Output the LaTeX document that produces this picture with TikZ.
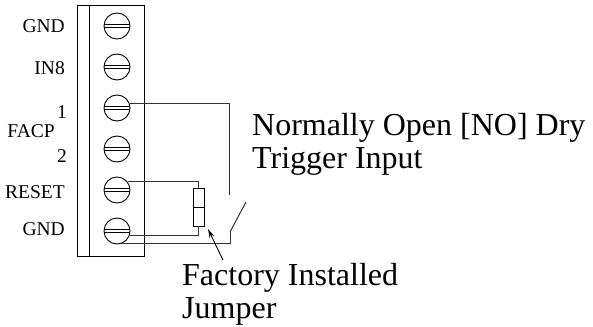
\documentclass[tikz,border=0pt]{standalone}
\usepackage{fontspec}
\setmainfont{Liberation Serif}
\usetikzlibrary{arrows.meta,calc}
\begin{document}
\begin{tikzpicture}[x=1pt,y=-1pt,
  screw/.style={draw,circle,line width=0.9pt,minimum size=26pt,inner sep=0pt},
  wire/.style={line width=1pt,draw=black!80},
  pinlbl/.style={anchor=base east,font=\fontsize{19.5}{20}\selectfont,inner sep=0pt},
  biglbl/.style={anchor=base west,font=\fontsize{32}{33}\selectfont,inner sep=0pt},
  resbox/.style={draw,line width=0.9pt,minimum width=11pt,minimum height=38pt,inner sep=0pt}]
\useasboundingbox (0,0) rectangle (593,326);
% terminal block
\draw[line width=0.9pt] (77,5) rectangle (144,256);
\draw[line width=0.9pt] (89,5) -- (89,256);
% screws
\foreach \i/\y in {1/26,2/67,3/108,4/149,5/190,6/231}{
  \node[screw] (s\i) at (117,\y) {};
  \draw[line width=0.9pt] ($(s\i)+(-12.9,-1.5)$) -- ($(s\i)+(12.9,-1.5)$);
  \draw[line width=0.9pt] ($(s\i)+(-12.9,1.5)$) -- ($(s\i)+(12.9,1.5)$);
}
% labels
\node[pinlbl] (lgnd1) at (65,33) {GND};
\node[pinlbl] (lin8) at (65,75) {IN8};
\node[pinlbl] (lone) at (67,118) {1};
\node[pinlbl] (lfacp) at (55,137) {FACP};
\node[pinlbl] (ltwo) at (67,162) {2};
\node[pinlbl] (lreset) at (65,198) {RESET};
\node[pinlbl] (lgnd2) at (65,235) {GND};
% jumper resistor
\node[resbox] (r) at (198.5,207) {};
\draw[line width=0.9pt] (r.west) -- (r.east);
% switch
\coordinate (swtop) at (229,195);
\coordinate (swbot) at (230,232);
\coordinate (swtip) at (246,202);
\draw[wire] (s3.18) -| (swtop);
\draw[wire] (swbot) -- (swtip);
\draw[wire] (s6.-72) -| (swbot);
\draw[wire] (s5.38) -| (r.north);
\draw[wire] (s6.-18) -| (r.south);
% texts
\node[biglbl] (no1) at (252,135) {Normally Open [NO] Dry};
\node[biglbl] (no2) at (252,168) {Trigger Input};
\node[biglbl] (fi1) at (182,285) {Factory Installed};
\node[biglbl] (fi2) at (182,318) {Jumper};
% arrow
\coordinate (arrtail) at (223,260);
\coordinate (arrtip) at (208,229);
\draw[line width=0.9pt,-{Stealth[length=9pt,width=5pt]}] (arrtail) -- (arrtip);
\end{tikzpicture}
\end{document}
